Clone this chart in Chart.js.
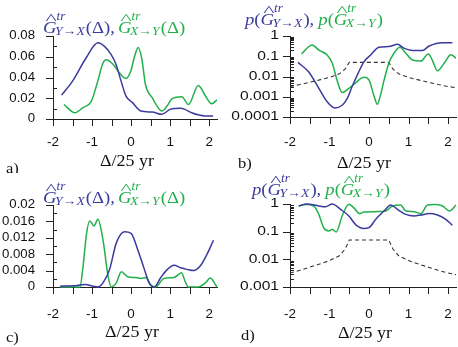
<!DOCTYPE html>
<html>
<head>
<meta charset="utf-8">
<script src="https://cdn.jsdelivr.net/npm/chart.js@4"></script>
<style>
  body { margin: 0; background: #fff; width: 458px; height: 347px; position: relative; overflow: hidden; }
  .panel { position: absolute; }
</style>
</head>
<body>
<div class="panel" style="left:0;top:0;width:229px;height:173px"><canvas id="ca"></canvas></div>
<div class="panel" style="left:229px;top:0;width:229px;height:173px"><canvas id="cb"></canvas></div>
<div class="panel" style="left:0;top:173px;width:229px;height:174px"><canvas id="cc"></canvas></div>
<div class="panel" style="left:229px;top:173px;width:229px;height:174px"><canvas id="cd"></canvas></div>
<script>
// x axis: delta / 25 yr
const xTicks = [-2, -1, 0, 1, 2];
const xMinor = [-1.5, -0.5, 0.5, 1.5];

// a) G estimates, top panel
const aBlueX = [-1.78, -1.49, -1.15, -0.85, -0.68, -0.51, -0.39, -0.26, -0.13, 0.03, 0.25, 0.54, 0.79, 1.0, 1.26, 1.38, 1.55, 1.89, 2.1];
const aBlueY = [0.023, 0.037, 0.059, 0.0735, 0.070, 0.062, 0.053, 0.037, 0.022, 0.016, 0.0077, 0.0067, 0.0045, 0.0093, 0.0103, 0.0093, 0.006, 0.003, 0.003];
const aGreenX = [-1.72, -1.44, -1.23, -1.02, -0.85, -0.73, -0.64, -0.47, -0.30, -0.13, -0.01, 0.08, 0.18, 0.27, 0.37, 0.54, 0.79, 0.92, 1.05, 1.30, 1.47, 1.72, 1.93, 2.06, 2.22];
const aGreenY = [0.014, 0.006, 0.011, 0.017, 0.037, 0.053, 0.057, 0.053, 0.0445, 0.039, 0.046, 0.059, 0.069, 0.059, 0.033, 0.0205, 0.0077, 0.0125, 0.0196, 0.0215, 0.014, 0.0324, 0.0205, 0.0147, 0.019];
const aTicks = [0, 0.02, 0.04, 0.06, 0.08];
const aMinor = [0.01, 0.03, 0.05, 0.07];

// b) p-values, top panel
const bBlueX = [-1.80, -1.53, -1.27, -1.06, -0.87, -0.68, -0.55, -0.43, -0.26, -0.13, 0.04, 0.25, 0.50, 0.72, 0.88, 1.05, 1.35, 1.52, 1.86, 2.11];
const bBlueY = [0.05, 0.017, 0.0026, 0.00056, 0.00028, 0.00038, 0.00083, 0.0031, 0.017, 0.053, 0.115, 0.28, 0.30, 0.39, 0.25, 0.20, 0.19, 0.32, 0.47, 0.47];
const bGreenX = [-1.71, -1.44, -1.27, -1.06, -0.93, -0.81, -0.68, -0.51, -0.34, -0.13, 0.0, 0.12, 0.21, 0.29, 0.38, 0.50, 0.63, 0.78, 0.93, 1.10, 1.31, 1.50, 1.60, 1.73, 1.90, 2.07, 2.21];
const bGreenY = [0.13, 0.36, 0.20, 0.115, 0.045, 0.0066, 0.0016, 0.0026, 0.0049, 0.0091, 0.0066, 0.0012, 0.00043, 0.0012, 0.0066, 0.045, 0.14, 0.28, 0.14, 0.065, 0.058, 0.13, 0.065, 0.019, 0.045, 0.12, 0.079];
const bTicks = [0.0001, 0.001, 0.01, 0.1, 1];

// significance level (dashed), used in b) and d)
const levelX = [-2, -1.75, -1.5, -1.25, -1, -0.75, -0.6, -0.5, 0.5, 0.6, 0.75, 1, 1.25, 1.5, 1.75, 2, 2.2];
const levelY = [0.0032, 0.004, 0.0052, 0.0068, 0.009, 0.0135, 0.024, 0.05, 0.05, 0.024, 0.0135, 0.009, 0.0068, 0.0052, 0.004, 0.0032, 0.0028];

// c) G estimates, bottom panel
const cBlueX = [-1.82, -1.48, -1.18, -0.97, -0.85, -0.72, -0.55, -0.38, -0.17, 0.0, 0.17, 0.34, 0.46, 0.59, 0.76, 0.93, 1.10, 1.27, 1.43, 1.60, 1.77, 1.94, 2.11];
const cBlueY = [0.0002, 0.0003, 0.0006, 0.0002, 0, 0.001, 0.0043, 0.0107, 0.0135, 0.0131, 0.0091, 0.0043, 0.001, 0, 0.0023, 0.0043, 0.0053, 0.0047, 0.0043, 0.004, 0.0051, 0.0079, 0.0114];
const cGreenX = [-1.82, -1.31, -1.23, -1.14, -1.06, -0.95, -0.85, -0.72, -0.59, -0.51, -0.38, -0.25, -0.09, 0.13, 0.25, 0.38, 0.51, 0.63, 0.84, 1.10, 1.29, 1.39, 1.47, 1.72, 1.90, 2.03, 2.15, 2.2];
const cGreenY = [0, 0, 0.0051, 0.0131, 0.0161, 0.0149, 0.0165, 0.0115, 0.0027, 0, 0.001, 0.0037, 0.0025, 0.0023, 0.0021, 0.0023, 0.0004, 0, 0.0021, 0.0023, 0.0035, 0.0012, 0, 0, 0.001, 0.0022, 0.0007, 0];
const cTicks = [0, 0.004, 0.008, 0.012, 0.016, 0.02];
const cMinor = [0.002, 0.006, 0.01, 0.014, 0.018];

// d) p-values, bottom panel
const dBlueX = [-1.78, -1.57, -1.27, -1.10, -0.93, -0.72, -0.51, -0.34, -0.13, 0.0, 0.17, 0.38, 0.55, 0.72, 0.93, 1.14, 1.31, 1.52, 1.73, 1.94, 2.11];
const dBlueY = [0.85, 1.0, 0.85, 0.80, 1.0, 0.64, 0.37, 0.18, 0.13, 0.14, 0.28, 0.56, 0.92, 0.64, 0.42, 0.37, 0.40, 0.45, 0.40, 0.28, 0.17];
const dGreenX = [-1.78, -1.61, -1.40, -1.27, -1.15, -1.02, -0.93, -0.83, -0.68, -0.51, -0.39, -0.24, -0.13, 0.17, 0.42, 0.59, 0.80, 0.93, 1.14, 1.31, 1.48, 1.64, 1.86, 2.03, 2.2];
const dGreenY = [0.85, 0.95, 0.85, 0.42, 0.14, 0.106, 0.12, 0.098, 0.37, 0.97, 0.74, 0.45, 0.51, 0.53, 0.56, 0.85, 0.92, 0.56, 0.53, 0.45, 0.92, 0.95, 0.85, 0.56, 0.92];
const dTicks = [0.001, 0.01, 0.1, 1];

const BLUE = '#3b3b9d';
const GREEN = '#22b04c';
const INK = '#222';
const SERIF = '"Liberation Serif", "Times New Roman", serif';
const SANS = '"Liberation Sans", Arial, sans-serif';

function pts(xs, ys) {
  return xs.map((x, i) => ({ x: x, y: ys[i] }));
}

function logMinor(ticks) {
  const out = [];
  ticks.slice(0, -1).forEach(d => { for (let k = 2; k < 10; k++) out.push(d * k); });
  return out;
}

function textAt(ctx, t, x, y, font, color, sx, align, baseline) {
  ctx.save();
  ctx.font = font;
  ctx.fillStyle = color;
  ctx.textAlign = align || 'left';
  ctx.textBaseline = baseline || 'alphabetic';
  const w = ctx.measureText(t).width * sx;
  ctx.translate(x, y);
  ctx.scale(sx, 1);
  ctx.fillText(t, 0, 0);
  ctx.restore();
  return w;
}

// tick marks and their (horizontally stretched) labels, placed by the chart's scales
const axisTicks = {
  id: 'axisTicks',
  afterDraw(chart, args, o) {
    const { ctx, chartArea: a, scales: { x, y } } = chart;
    ctx.save();
    ctx.strokeStyle = INK;
    ctx.lineWidth = 1;
    ctx.beginPath();
    xTicks.concat(xMinor).forEach(v => {
      const px = Math.round(x.getPixelForValue(v)) + 0.5;
      ctx.moveTo(px, a.bottom);
      ctx.lineTo(px, a.bottom + 7);
    });
    o.major.forEach(v => {
      const py = Math.round(y.getPixelForValue(v)) + 0.5;
      ctx.moveTo(a.left - 7, py);
      ctx.lineTo(a.left + 1, py);
    });
    o.minor.forEach(v => {
      const py = Math.round(y.getPixelForValue(v)) + 0.5;
      ctx.moveTo(a.left, py);
      ctx.lineTo(a.left + 4, py);
    });
    ctx.stroke();
    ctx.restore();
    const font = '12px ' + SANS;
    xTicks.forEach(v => {
      textAt(ctx, String(v), x.getPixelForValue(v), a.bottom + o.xOff, font, '#111', 1.12, 'center', 'middle');
    });
    o.major.forEach(v => {
      textAt(ctx, String(v), a.left - o.yGap, y.getPixelForValue(v), font, '#111', o.ySx, 'right', 'middle');
    });
  }
};

// heading with hat-G, superscript tr and subscript arrows; panel letter; axis title
const panelText = {
  id: 'panelText',
  afterDraw(chart, args, o) {
    const ctx = chart.ctx;
    const sx = 1.1;
    let cx = o.title.x;
    const base = o.title.y;
    o.title.parts.forEach(p => {
      if (p.space) { cx += p.space; return; }
      if (p.g) {
        const gw = textAt(ctx, 'G', cx, base, 'italic 17px ' + SERIF, p.c, sx);
        textAt(ctx, '^', cx + gw / 2 + 1.5, base - 9, '15px ' + SERIF, p.c, 1.6, 'center');
        const sw = textAt(ctx, 'tr', cx + gw, base - 13, 'italic 12px ' + SERIF, p.c, sx);
        const bw = textAt(ctx, p.sub, cx + gw - 1.5, base + 2, 'italic 12.5px ' + SERIF, p.c, sx);
        cx += gw - 1.5 + Math.max(sw, bw) + 1;
        return;
      }
      cx += textAt(ctx, p.t, cx, base, (p.it ? 'italic ' : '') + '17px ' + SERIF, p.c, sx);
    });
    textAt(ctx, o.letter.t, o.letter.x, o.letter.y, '15px ' + SERIF, '#111', 1.1);
    textAt(ctx, 'Δ/25 yr', o.axis.x, o.axis.y, '16px ' + SERIF, '#111', 1.12, 'center');
  }
};

function line(xs, ys, color) {
  return {
    data: pts(xs, ys), borderColor: color, borderWidth: 1.5, pointRadius: 0,
    cubicInterpolationMode: 'monotone', clip: { left: 0, right: 0, top: 4, bottom: 2 }
  };
}

function level() {
  return {
    data: pts(levelX, levelY), borderColor: '#333', borderWidth: 1.1, borderDash: [4, 3],
    pointRadius: 0, tension: 0
  };
}

function makeChart(id, cfg) {
  const ctx = document.getElementById(id).getContext('2d');
  return new Chart(ctx, {
    type: 'line',
    data: { datasets: cfg.datasets },
    options: {
      responsive: true,
      maintainAspectRatio: false,
      animation: false,
      events: [],
      layout: { padding: { left: 0, top: cfg.top, right: cfg.right, bottom: 0 } },
      scales: {
        x: {
          type: 'linear', min: -2, max: 2.2,
          afterBuildTicks: s => { s.ticks = xTicks.map(v => ({ value: v })); },
          afterFit: s => { s.height = cfg.xh; },
          grid: { display: false, drawTicks: false },
          border: { display: true, color: INK, width: 1 },
          ticks: { display: false }
        },
        y: {
          type: cfg.log ? 'logarithmic' : 'linear',
          min: cfg.ticks[0], max: cfg.ticks[cfg.ticks.length - 1],
          afterBuildTicks: s => { s.ticks = cfg.ticks.map(v => ({ value: v })); },
          afterFit: s => { s.width = cfg.left; },
          grid: { display: false, drawTicks: false },
          border: { display: true, color: INK, width: 1 },
          ticks: { display: false }
        }
      },
      plugins: {
        legend: { display: false },
        tooltip: { enabled: false },
        axisTicks: { major: cfg.ticks, minor: cfg.minor, xOff: cfg.xOff, yGap: cfg.yGap, ySx: cfg.ySx },
        panelText: cfg.text
      }
    },
    plugins: [axisTicks, panelText]
  });
}

makeChart('ca', {
  datasets: [line(aBlueX, aBlueY, BLUE), line(aGreenX, aGreenY, GREEN)],
  ticks: aTicks, minor: aMinor, log: false,
  top: 36, right: 12, left: 53, xh: 54, xOff: 24, yGap: 18, ySx: 1.1,
  text: {
    title: { x: 43, y: 33, parts: [
      { g: true, sub: 'Y→X', c: BLUE }, { t: '(Δ),', c: BLUE }, { space: 3 },
      { g: true, sub: 'X→Y', c: GREEN }, { t: '(Δ)', c: GREEN }] },
    letter: { t: 'a)', x: 6, y: 173 },
    axis: { x: 127, y: 166 }
  }
});

makeChart('cb', {
  datasets: [line(bBlueX, bBlueY, BLUE), line(bGreenX, bGreenY, GREEN), level()],
  ticks: bTicks, minor: logMinor(bTicks), log: true,
  top: 36, right: 2, left: 61, xh: 56, xOff: 26, yGap: 11, ySx: 1.3,
  text: {
    title: { x: 16, y: 25, parts: [
      { t: 'p', it: true, c: BLUE }, { t: '(', c: BLUE }, { g: true, sub: 'Y→X', c: BLUE }, { t: '),', c: BLUE }, { space: 4 },
      { t: 'p', it: true, c: GREEN }, { t: '(', c: GREEN }, { g: true, sub: 'X→Y', c: GREEN }, { t: ')', c: GREEN }] },
    letter: { t: 'b)', x: 9, y: 168 },
    axis: { x: 135, y: 168 }
  }
});

makeChart('cc', {
  datasets: [line(cBlueX, cBlueY, BLUE), line(cGreenX, cGreenY, GREEN)],
  ticks: cTicks, minor: cMinor, log: false,
  top: 32, right: 12, left: 53, xh: 60, xOff: 28, yGap: 18, ySx: 1.1,
  text: {
    title: { x: 43, y: 30, parts: [
      { g: true, sub: 'Y→X', c: BLUE }, { t: '(Δ),', c: BLUE }, { space: 3 },
      { g: true, sub: 'X→Y', c: GREEN }, { t: '(Δ)', c: GREEN }] },
    letter: { t: 'c)', x: 6, y: 169 },
    axis: { x: 132, y: 164 }
  }
});

makeChart('cd', {
  datasets: [line(dBlueX, dBlueY, BLUE), line(dGreenX, dGreenY, GREEN), level()],
  ticks: dTicks, minor: logMinor(dTicks), log: true,
  top: 31, right: 2, left: 61, xh: 60, xOff: 28, yGap: 11, ySx: 1.3,
  text: {
    title: { x: 23, y: 22, parts: [
      { t: 'p', it: true, c: BLUE }, { t: '(', c: BLUE }, { g: true, sub: 'Y→X', c: BLUE }, { t: '),', c: BLUE }, { space: 4 },
      { t: 'p', it: true, c: GREEN }, { t: '(', c: GREEN }, { g: true, sub: 'X→Y', c: GREEN }, { t: ')', c: GREEN }] },
    letter: { t: 'd)', x: 12, y: 167 },
    axis: { x: 136, y: 165 }
  }
});
</script>
</body>
</html>
